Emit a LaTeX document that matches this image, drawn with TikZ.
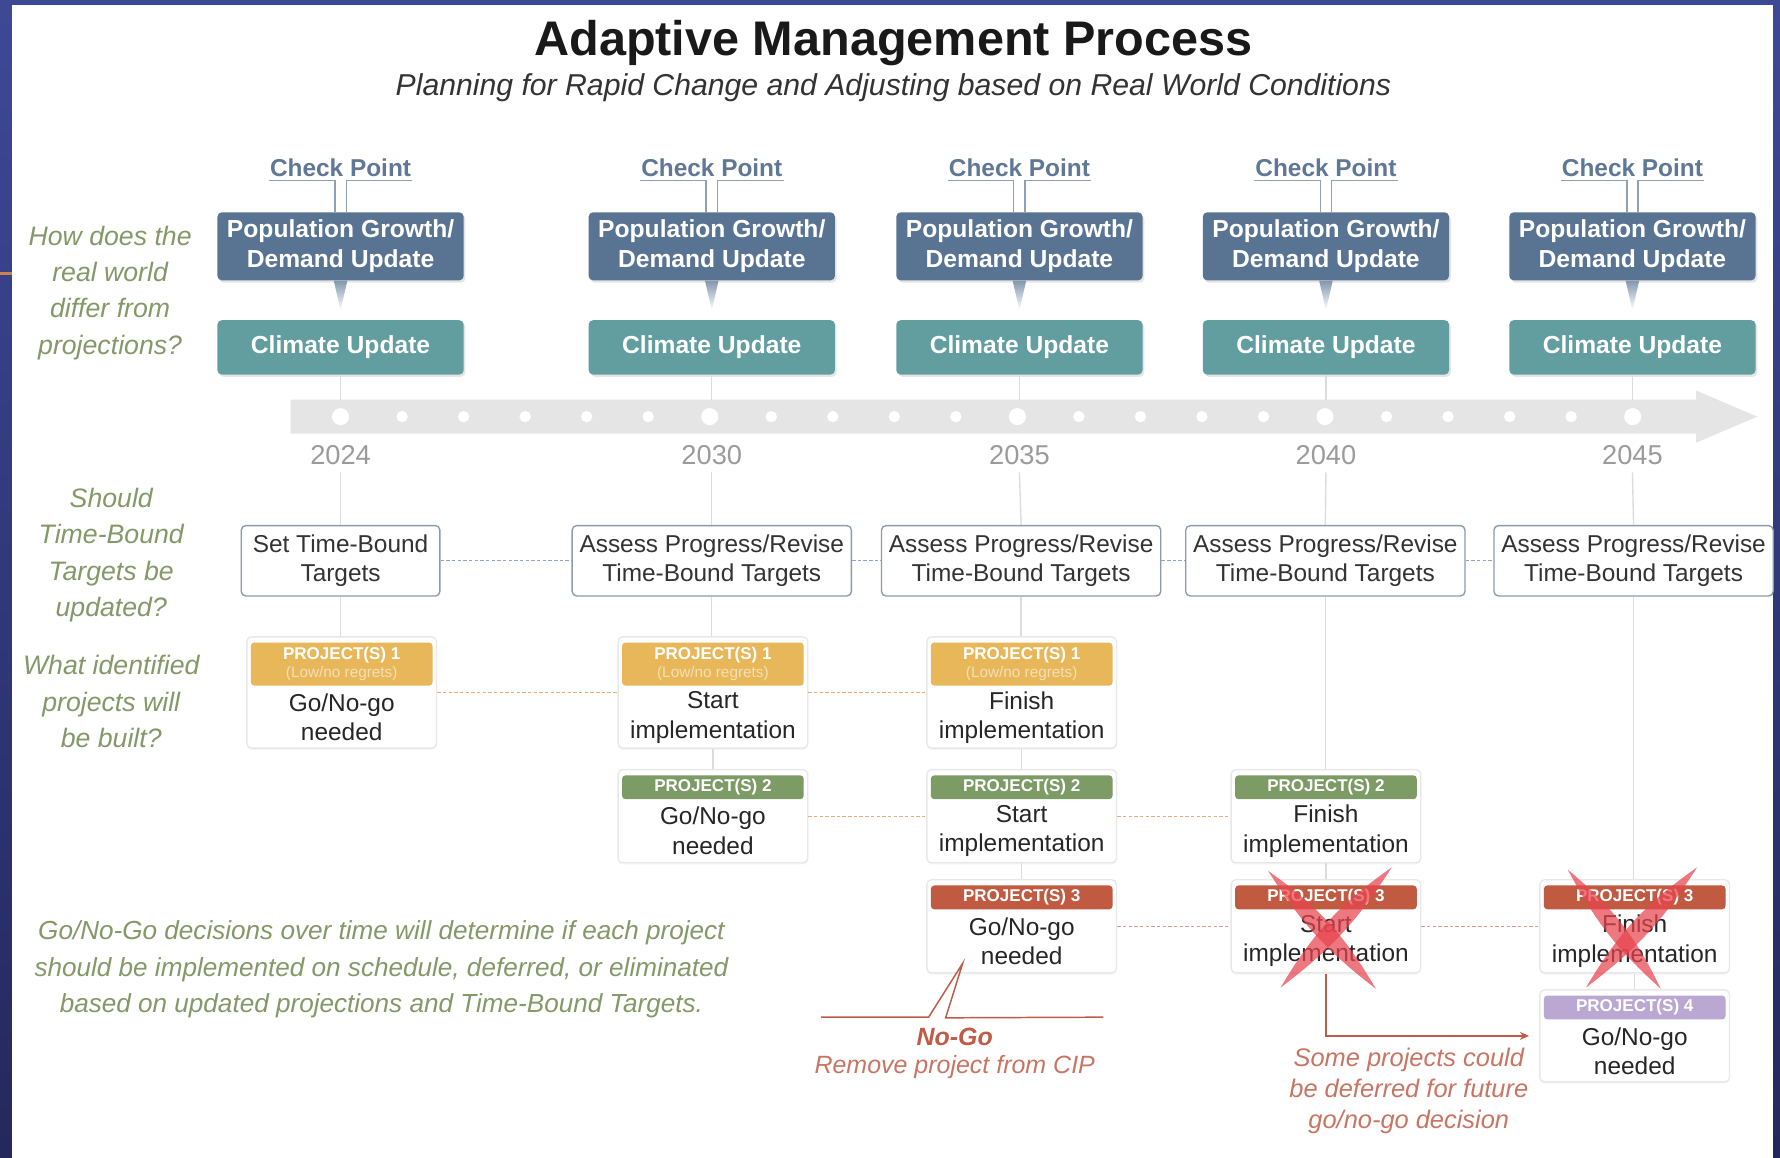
\documentclass[tikz,border=0pt]{standalone}
\usepackage{fontspec}
\setmainfont{Liberation Sans}
\usetikzlibrary{arrows.meta,positioning,calc,shadows}

\definecolor{navytop}{RGB}{62,73,150}
\definecolor{navybot}{RGB}{36,40,92}
\definecolor{edgetick}{RGB}{200,132,78}
\definecolor{cpblue}{RGB}{96,120,150}
\definecolor{popblue}{RGB}{89,116,146}
\definecolor{climteal}{RGB}{98,158,160}
\definecolor{gridgray}{RGB}{220,220,220}
\definecolor{bandgray}{RGB}{229,229,229}
\definecolor{yeargray}{RGB}{155,155,155}
\definecolor{tgtedge}{RGB}{140,154,174}
\definecolor{tgtdash}{RGB}{140,166,196}
\definecolor{qgreen}{RGB}{132,152,104}
\definecolor{pone}{RGB}{232,183,90}
\definecolor{ptwo}{RGB}{125,155,100}
\definecolor{pthree}{RGB}{192,90,64}
\definecolor{pfour}{RGB}{186,168,210}
\definecolor{pdash}{RGB}{230,172,125}
\definecolor{nogored}{RGB}{190,92,72}
\definecolor{xred}{RGB}{232,68,78}

\begin{document}
\begin{tikzpicture}[x=1pt, y=-1pt,
    body/.style={font=\fontsize{21.5}{26}\selectfont},
    cptext/.style={font=\fontsize{21.5}{26}\selectfont\bfseries, text=cpblue, inner xsep=1pt, inner ysep=3pt},
    cpline/.style={draw=cpblue!70, line width=1.3pt},
    topbox/.style={rounded corners=4pt, text=white, align=center, minimum width=217pt,
      font=\fontsize{21.7}{26}\selectfont\bfseries,
      drop shadow={shadow xshift=1.5pt, shadow yshift=-2pt, opacity=.2}},
    popbox/.style={topbox, fill=popblue, minimum height=60pt},
    climbox/.style={topbox, fill=climteal, minimum height=48pt},
    yrtext/.style={font=\fontsize{24}{28}\selectfont, text=yeargray},
    gridline/.style={draw=gridgray, line width=1.2pt},
    tgtbox/.style={draw=tgtedge, fill=white, line width=1.2pt, rounded corners=4pt, align=center,
      minimum width=246pt, minimum height=62pt, body, text=black!80},
    tgtlink/.style={draw=tgtdash, line width=1.2pt, dash pattern=on 3pt off 2pt},
    pbox/.style={draw=black!9, fill=white, line width=1.2pt, rounded corners=4pt, minimum width=167pt,
      drop shadow={shadow xshift=0pt, shadow yshift=-1.5pt, opacity=.08}},
    phead/.style={rounded corners=3pt, text=white, minimum width=160pt, minimum height=21pt, inner sep=0pt,
      align=center, font=\fontsize{15}{15}\selectfont\bfseries},
    ptxt/.style={body, align=center, text=black!85, inner sep=0pt},
    plink/.style={draw=pdash, line width=1.2pt, dash pattern=on 3pt off 2pt},
    question/.style={font=\fontsize{23.5}{32}\selectfont\itshape, text=qgreen, align=center},
    nogoline/.style={draw=nogored, line width=1.3pt},
    crossout/.style={fill=xred, opacity=.72}]

  % frame
  \useasboundingbox (0,0) rectangle (1568,1020);
  \shade[top color=navytop, bottom color=navybot] (0,0) rectangle (1568,1020);
  \fill[white] (10.5,4) rectangle (1562,1020);
  \draw[edgetick, line width=2pt] (0,241) -- (10.5,241);

  % heading
  \node[font=\fontsize{42.8}{48}\selectfont\bfseries, text=black!90] (title) at (787,38) {Adaptive Management Process};
  \node[font=\fontsize{26.6}{30}\selectfont\itshape, text=black!80] (subtitle) at (787,77)
    {Planning for Rapid Change and Adjusting based on Real World Conditions};

  % timeline
  \coordinate (bandtop) at (0,352);
  \fill[bandgray] (256,352) -- (1494,352) -- (1494,344) -- (1548,367) -- (1494,390) -- (1494,382) -- (256,382) -- cycle;
  \foreach \k in {0,...,21} \fill[white] (300+54.2*\k,367) circle (5pt);
  \foreach \k in {0,6,11,16,21} \fill[white] (300+54.2*\k,367) circle (7.5pt);

  % check points
  \foreach \i/\x/\yr in {1/300/2024,2/627/2030,3/898/2035,4/1168/2040,5/1438/2045} {
    \node[cptext] (cp\i) at (\x,148) {Check Point};
    \node[popbox] (pop\i) at (\x,217) {Population Growth/\\Demand Update};
    \shade[top color=popblue!75, bottom color=white] ([xshift=-6pt]pop\i.south) -- ([xshift=6pt]pop\i.south)
      -- ([yshift=-26pt]pop\i.south) -- cycle;
    \node[climbox] (clim\i) at (\x,306) {Climate Update};
    \draw[cpline] (cp\i.south west) -- ([xshift=-5pt]cp\i.south) -- ([xshift=-5pt]pop\i.north);
    \draw[cpline] (cp\i.south east) -- ([xshift=5pt]cp\i.south) -- ([xshift=5pt]pop\i.north);
    \draw[gridline] (clim\i.south) -- (clim\i.south |- bandtop);
    \node[yrtext] (yr\i) at (\x,401) {\yr};
  }

  % time-bound targets
  \node[tgtbox, minimum width=175pt] (tgt1) at (300,494) {Set Time-Bound\\Targets};
  \node[tgtbox] (tgt2) at (627,494)    {Assess Progress/Revise\\Time-Bound Targets};
  \node[tgtbox] (tgt3) at (899.5,494)  {Assess Progress/Revise\\Time-Bound Targets};
  \node[tgtbox] (tgt4) at (1167.5,494) {Assess Progress/Revise\\Time-Bound Targets};
  \node[tgtbox] (tgt5) at (1439,494)   {Assess Progress/Revise\\Time-Bound Targets};
  \foreach \i in {1,...,5} \draw[gridline] ([yshift=-3pt]yr\i.south) -- (tgt\i.north);
  \draw[tgtlink] (tgt1.east) -- (tgt2.west);
  \draw[tgtlink] (tgt2.east) -- (tgt3.west);
  \draw[tgtlink] (tgt3.east) -- (tgt4.west);
  \draw[tgtlink] (tgt4.east) -- (tgt5.west);

  % project(s) 1
  \node[pbox, minimum height=98pt] (p1a) at (301,610) {};
  \node[phead, fill=pone, minimum height=38pt] (h1a) at (301,585)
    {PROJECT(S) 1\\[1pt]{\fontsize{13.5}{14}\selectfont\mdseries\color{white!55!pone}(Low/no regrets)}};
  \node[ptxt] (t1a) at (301,632) {Go/No-go\\needed};
  \node[pbox, minimum height=98pt] (p1b) at (628,610) {};
  \node[phead, fill=pone, minimum height=38pt] (h1b) at (628,585)
    {PROJECT(S) 1\\[1pt]{\fontsize{13.5}{14}\selectfont\mdseries\color{white!55!pone}(Low/no regrets)}};
  \node[ptxt] (t1b) at (628,632) {Start\\implementation};
  \node[pbox, minimum height=98pt] (p1c) at (900,610) {};
  \node[phead, fill=pone, minimum height=38pt] (h1c) at (900,585)
    {PROJECT(S) 1\\[1pt]{\fontsize{13.5}{14}\selectfont\mdseries\color{white!55!pone}(Low/no regrets)}};
  \node[ptxt] (t1c) at (900,632) {Finish\\implementation};

  % project(s) 2
  \node[pbox, minimum height=82pt] (p2b) at (628,719) {};
  \node[phead, fill=ptwo] (h2b) at (628,693.5) {PROJECT(S) 2};
  \node[ptxt] (t2b) at (628,732) {Go/No-go\\needed};
  \node[pbox, minimum height=82pt] (p2c) at (900,719) {};
  \node[phead, fill=ptwo] (h2c) at (900,693.5) {PROJECT(S) 2};
  \node[ptxt] (t2c) at (900,732) {Start\\implementation};
  \node[pbox, minimum height=82pt] (p2d) at (1168,719) {};
  \node[phead, fill=ptwo] (h2d) at (1168,693.5) {PROJECT(S) 2};
  \node[ptxt] (t2d) at (1168,732) {Finish\\implementation};

  % project(s) 3
  \node[pbox, minimum height=82pt] (p3c) at (900,816) {};
  \node[phead, fill=pthree] (h3c) at (900,790.5) {PROJECT(S) 3};
  \node[ptxt] (t3c) at (900,829) {Go/No-go\\needed};
  \node[pbox, minimum height=82pt] (p3d) at (1168,816) {};
  \node[phead, fill=pthree] (h3d) at (1168,790.5) {PROJECT(S) 3};
  \node[ptxt] (t3d) at (1168,829) {Start\\implementation};
  \node[pbox, minimum height=82pt] (p3e) at (1440,816) {};
  \node[phead, fill=pthree] (h3e) at (1440,790.5) {PROJECT(S) 3};
  \node[ptxt] (t3e) at (1440,829) {Finish\\implementation};

  % project(s) 4
  \node[pbox, minimum height=81pt] (p4e) at (1440,912.5) {};
  \node[phead, fill=pfour] (h4e) at (1440,887.5) {PROJECT(S) 4};
  \node[ptxt] (t4e) at (1440,926) {Go/No-go\\needed};

  % verticals and links
  \draw[gridline] (tgt1.south) -- (tgt1.south |- p1a.north);
  \draw[gridline] (tgt2.south) -- (tgt2.south |- p1b.north);
  \draw[gridline] (p1b.south) -- (p2b.north);
  \draw[gridline] (tgt3.south) -- (tgt3.south |- p1c.north);
  \draw[gridline] (p1c.south) -- (p2c.north);
  \draw[gridline] (p2c.south) -- (p3c.north);
  \draw[gridline] (tgt4.south) -- (tgt4.south |- p2d.north);
  \draw[gridline] (p2d.south) -- (p3d.north);
  \draw[gridline] (tgt5.south) -- (tgt5.south |- p3e.north);
  \draw[gridline] (p3e.south) -- (p4e.north);
  \draw[plink] (p1a.east) -- (p1b.west);
  \draw[plink] (p1b.east) -- (p1c.west);
  \draw[plink] (p2b.east) -- (p2c.west);
  \draw[plink] (p2c.east) -- (p2d.west);
  \draw[plink, draw=pthree!60] (p3c.east) -- (p3d.west);
  \draw[plink, draw=pthree!60] (p3d.east) -- (p3e.west);

  % crossed out
  \fill[crossout] (1117,767) to[bend left=12] (1212,871) to[bend left=10] (1117,767) -- cycle;
  \fill[crossout] (1226,764) to[bend left=10] (1128,870) to[bend left=12] (1226,764) -- cycle;
  \fill[crossout] (1381,766) to[bend left=12] (1463,871) to[bend left=10] (1381,766) -- cycle;
  \fill[crossout] (1495,764) to[bend left=10] (1397,870) to[bend left=12] (1495,764) -- cycle;

  % no-go and deferral
  \coordinate (nogoL) at (723,896);
  \coordinate (nogoR) at (972,896);
  \coordinate (nogotip) at ([xshift=-52pt,yshift=9pt]p3c.south);
  \draw[nogoline] (nogoL) -- ++(95,0) -- (nogotip) -- ++(-15,48) -- (nogoR);
  \node[font=\fontsize{22}{26}\selectfont\bfseries\itshape, text=nogored] (nogo) at (841,913) {No-Go};
  \node[font=\fontsize{22}{26}\selectfont\itshape, text=nogored!85] (nogotxt) at (841,940) {Remove project from CIP};
  \draw[nogoline, -{Stealth[length=8pt,width=7pt]}] (p3d.south) |- ([xshift=-9pt]p4e.west);
  \node[font=\fontsize{22.4}{27}\selectfont\itshape, text=nogored!85, align=center] (defer) at (1241,961)
    {Some projects could\\be deferred for future\\go/no-go decision};

  % guiding questions
  \node[question] (qreal) at (97,258) {How does the\\real world\\differ from\\projections?};
  \node[question] (qtgt) at (98,489) {Should\\Time-Bound\\Targets be\\updated?};
  \node[question] (qproj) at (98,618) {What identified\\projects will\\be built?};
  \node[question, font=\fontsize{23}{32}\selectfont\itshape] (qgo) at (336,854)
    {Go/No-Go decisions over time will determine if each project\\should be implemented on schedule, deferred, or eliminated\\based on updated projections and Time-Bound Targets.};
\end{tikzpicture}
\end{document}
